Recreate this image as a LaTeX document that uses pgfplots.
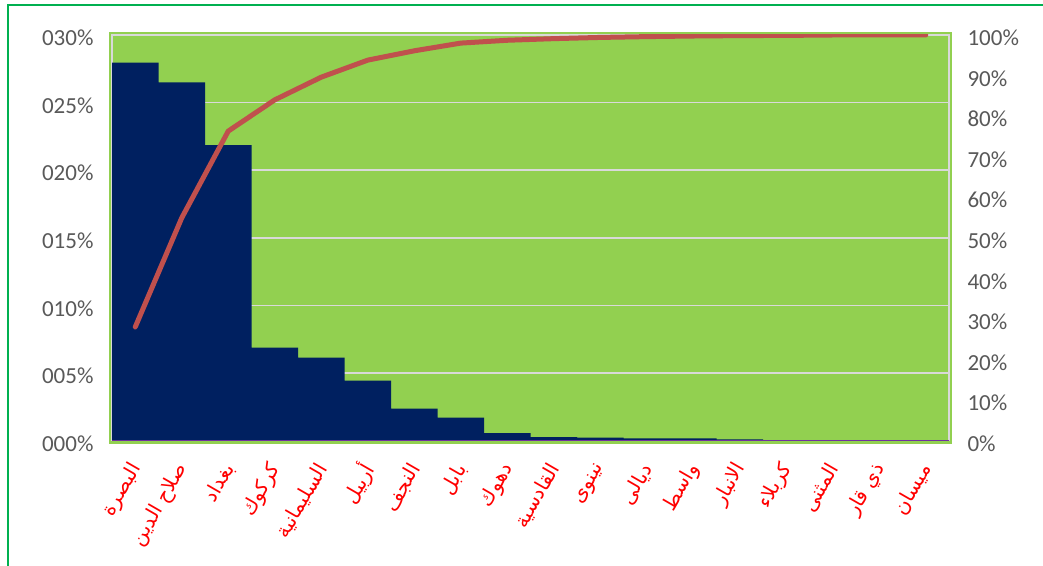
\documentclass[border=0pt]{standalone}
\usepackage{pgfplots}
\pgfplotsset{compat=1.18}
\usepackage{pgfplotstable}
\usepackage{fontspec}
\setmainfont{Carlito}
\newfontfamily\arabicfont[Script=Arabic]{DejaVu Sans}
\TeXXeTstate=1

\definecolor{plotgreen}{HTML}{92D050}
\definecolor{barblue}{HTML}{002060}
\definecolor{linered}{HTML}{C0504D}
\definecolor{gridgray}{HTML}{D9D9D9}
\definecolor{axispurple}{HTML}{7030A0}
\definecolor{ticktext}{HTML}{595959}
\definecolor{chartframe}{HTML}{00B050}

% share of each governorate and running total
\pgfplotstableread{
idx share cum
0  27.95 28.0
1  26.50 54.9
2  21.86 76.3
3  6.87  84.0
4  6.13  89.6
5  4.43  93.8
6  2.35  96.1
7  1.69  98.0
8  0.55  98.7
9  0.25  99.1
10 0.22  99.4
11 0.16  99.6
12 0.15  99.75
13 0.08  99.85
14 0.03  99.9
15 0.03  100
16 0.02  100
17 0.02  100
}\govtable

\begin{document}
\begin{tikzpicture}[x=1pt,y=1pt]
\useasboundingbox (0,0) rectangle (1043,565);
\draw[chartframe, line width=1.5pt] (8,-20) |- (1070,560);

\begin{axis}[
    at={(112pt,124.5pt)}, anchor=south west,
    scale only axis, width=837pt, height=405.5pt,
    xmin=-0.5, xmax=17.5, ymin=0, ymax=30,
    ybar, bar width=1,
    xtick={0,...,17},
    xticklabels={
      {\arabicfont\beginR البصرة\endR},
      {\arabicfont\beginR صلاح الدين\endR},
      {\arabicfont\beginR بغداد\endR},
      {\arabicfont\beginR كركوك\endR},
      {\arabicfont\beginR السليمانية\endR},
      {\arabicfont\beginR أربيل\endR},
      {\arabicfont\beginR النجف\endR},
      {\arabicfont\beginR بابل\endR},
      {\arabicfont\beginR دهوك\endR},
      {\arabicfont\beginR القادسية\endR},
      {\arabicfont\beginR نينوى\endR},
      {\arabicfont\beginR ديالى\endR},
      {\arabicfont\beginR واسط\endR},
      {\arabicfont\beginR الانبار\endR},
      {\arabicfont\beginR كربلاء\endR},
      {\arabicfont\beginR المثنى\endR},
      {\arabicfont\beginR ذي قار\endR},
      {\arabicfont\beginR ميسان\endR}},
    ytick={0,5,...,30},
    yticklabels={000\%,005\%,010\%,015\%,020\%,025\%,030\%},
    ymajorgrids, grid style={gridgray, line width=1.5pt},
    axis line style={gridgray, line width=1.5pt},
    axis background/.style={fill=plotgreen, draw=plotgreen, line width=6pt},
    major tick length=0pt,
    y tick label style={font=\fontsize{23}{28}\selectfont, text=ticktext, xshift=-15pt, yshift=-3pt},
    x tick label style={yshift=-22pt, xshift=3pt, rotate=60, anchor=east, text=red, font=\fontsize{20}{22}\selectfont},
]
\addplot[fill=barblue, draw=none] table[x=idx, y=share]{\govtable};
\draw[axispurple, line width=2pt] (rel axis cs:0,0) -- (rel axis cs:1,0);
\end{axis}

\begin{axis}[
    at={(112pt,124.5pt)}, anchor=south west,
    scale only axis, width=837pt, height=405.5pt,
    xmin=-0.5, xmax=17.5, ymin=0, ymax=100,
    axis y line*=right, axis x line=none,
    axis line style={draw=none},
    ytick={0,10,...,100},
    yticklabels={0\%,10\%,20\%,30\%,40\%,50\%,60\%,70\%,80\%,90\%,100\%},
    major tick length=0pt,
    y tick label style={font=\fontsize{23}{28}\selectfont, text=ticktext, xshift=15pt, yshift=-3pt},
]
\addplot[linered, line width=5pt, line cap=round, line join=round] table[x=idx, y=cum]{\govtable};
\end{axis}
\end{tikzpicture}
\end{document}
